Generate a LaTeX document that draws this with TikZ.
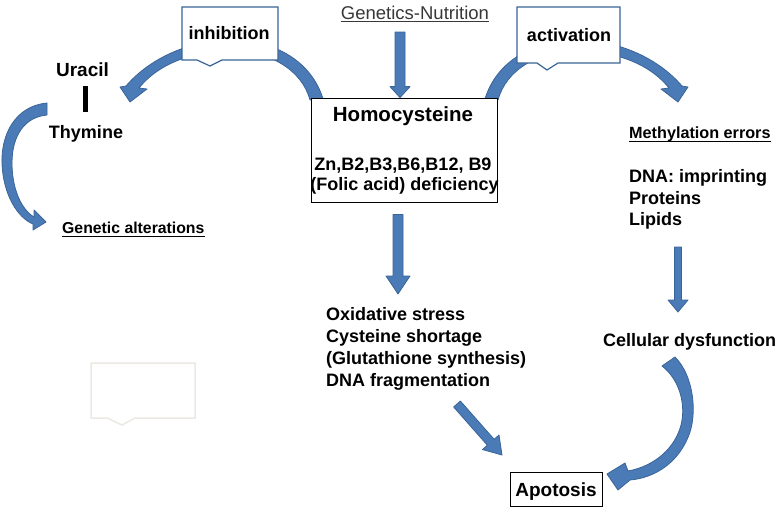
\documentclass[tikz,border=0pt]{standalone}
\usepackage{fontspec}
\setmainfont{Liberation Sans}
\usetikzlibrary{calc}
\definecolor{ablue}{HTML}{4A7BB7}
\definecolor{aedge}{HTML}{3A6497}
\definecolor{faint}{HTML}{ECE9E2}
\definecolor{gtext}{HTML}{383838}
% block arrow: #1 start, #2 tip, #3 half shaft, #4 half head, #5 head length
\newcommand\blockarr[5]{%
  \coordinate (ba-n) at ($(#2)!#5!(#1)$);
  \draw[barrow] ($(#1)!#3!90:(#2)$) -- ($(ba-n)!#3!-90:(#1)$) -- ($(ba-n)!#4!-90:(#1)$)
    -- (#2) -- ($(ba-n)!#4!90:(#1)$) -- ($(ba-n)!#3!90:(#1)$) -- ($(#1)!#3!-90:(#2)$) -- cycle;}
\begin{document}
\begin{tikzpicture}[x=1pt,y=-1pt,
  barrow/.style={fill=ablue,draw=aedge,line width=0.8pt,line join=round},
  callout/.style={fill=white,draw=aedge,line width=1.2pt,line join=miter},
  txt/.style={inner sep=0pt,font=\bfseries\fontsize{18pt}{21.5pt}\selectfont},
  ulline/.style={line width=1pt}]
\useasboundingbox[fill=white] (0,0) rectangle (782,507);

% ---- curved arrows ----
% Homocysteine -> Uracil (inhibition)
\draw[barrow] (323,99) .. controls (312,62) and (275,40) .. (232,40)
  .. controls (190,40) and (150,58) .. (126,86) -- (120,87) -- (130,102) -- (147,89) -- (139,88)
  .. controls (160,62) and (195,51) .. (232,51) .. controls (270,51) and (302,70) .. (310,100) -- cycle;
% Homocysteine -> Methylation errors (activation)
\draw[barrow] (485,99) .. controls (496,62) and (533,40) .. (576,40)
  .. controls (618,40) and (658,58) .. (682,86) -- (688,87) -- (678,102) -- (661,89) -- (669,88)
  .. controls (648,62) and (613,51) .. (576,51) .. controls (538,51) and (506,70) .. (498,100) -- cycle;
% Thymine -> Genetic alterations
\draw[barrow] (47,103) .. controls (15,106) and (1,135) .. (2,163)
  .. controls (3,195) and (18,218) .. (33,224) -- (33,230) -- (46,222) -- (34,210) -- (34,217)
  .. controls (22,210) and (12,190) .. (12,163) .. controls (12,135) and (25,117) .. (47,115) -- cycle;
% Cellular dysfunction -> Apotosis
\draw[barrow] (675,357) .. controls (693,375) and (697,410) .. (690,432)
  .. controls (680,462) and (655,478) .. (630,480) -- (618,490) -- (607,474) -- (625,463) -- (628,471)
  .. controls (655,466) and (675,448) .. (681,425) .. controls (686,405) and (680,380) .. (662,366) -- cycle;

% ---- callouts ----
\draw[callout] (182,7) -- (278,7) -- (278,60) -- (222,60) -- (210,66) -- (197,60) -- (182,60) -- cycle;
\node[txt,anchor=base] (inh) at (229,39.5) {inhibition};
\draw[callout] (517,7) -- (620,7) -- (620,63) -- (558,63) -- (547,70) -- (537,63) -- (517,63) -- cycle;
\node[txt,anchor=base] (act) at (569,41) {activation};
\draw[callout,draw=faint,line width=1.5pt] (91,363) -- (195,363) -- (195,418) -- (135,418) -- (122,425) -- (107,418) -- (91,418) -- cycle;

% ---- Homocysteine box ----
\node[draw=black,fill=white,line width=0.8pt,minimum width=186pt,minimum height=104pt,inner sep=0pt] (homobox) at (404,150) {};
\node[txt,anchor=base,font=\bfseries\fontsize{20.5pt}{24pt}\selectfont] (homo) at (403,121.5) {Homocysteine};
\node[txt,anchor=base] (vit1) at (403,170.5) {Zn,B2,B3,B6,B12, B9};
\node[txt,anchor=base] (vit2) at (404.5,190) {(Folic acid) deficiency};

% ---- top input ----
\node[inner sep=0pt,anchor=base,text=gtext,font=\fontsize{18.5pt}{22pt}\selectfont] (gn) at (415,19) {Genetics-Nutrition};
\draw[ulline,gtext] ($(gn.base west)+(0,2)$) -- ($(gn.base east)+(0,2)$);
\coordinate (gnA) at (400,32);
\coordinate (gnB) at ($(homobox.north)+(-4,0)$);
\blockarr{gnA}{gnB}{5pt}{10pt}{11pt}

% ---- left column ----
\node[txt,anchor=base,font=\bfseries\fontsize{19pt}{22pt}\selectfont] (uracil) at (82.5,76) {Uracil};
\fill (83,86) rectangle (88,112);
\node[txt,anchor=base] (thymine) at (86,138) {Thymine};
\node[txt,anchor=base west,font=\bfseries\fontsize{15.8pt}{19pt}\selectfont] (genalt) at (62,233.5) {Genetic alterations};
\draw[ulline] ($(genalt.base west)+(0,3)$) -- ($(genalt.base east)+(0,3)$);

% ---- middle column ----
\coordinate (dA) at ($(homobox.south)+(-6,12)$);
\coordinate (dB) at (398,294);
\blockarr{dA}{dB}{5pt}{12pt}{18pt}
\node[txt,anchor=base west] (ox1) at (326,320) {Oxidative stress};
\node[txt,anchor=base west] (ox2) at (326,342) {Cysteine shortage};
\node[txt,anchor=base west] (ox3) at (326,364) {(Glutathione synthesis)};
\node[txt,anchor=base west] (ox4) at (326,386) {DNA fragmentation};
\coordinate (xA) at (457,404);
\coordinate (xB) at (502,455);
\blockarr{xA}{xB}{4.5pt}{11pt}{17pt}
\node[draw=black,line width=0.8pt,minimum width=92pt,minimum height=34pt,inner sep=0pt] (apobox) at (556,489.5) {};
\node[txt,anchor=base,font=\bfseries\fontsize{19pt}{22pt}\selectfont] (apo) at (556,496) {Apotosis};

% ---- right column ----
\node[txt,anchor=base west,font=\bfseries\fontsize{16.2pt}{19pt}\selectfont] (meth) at (629,138.3) {Methylation errors};
\draw[ulline] ($(meth.base west)+(0,3)$) -- ($(meth.base east)+(0,3)$);
\node[txt,anchor=base west] (dna) at (629,182.7) {DNA: imprinting};
\node[txt,anchor=base west] (prot) at (629,204) {Proteins};
\node[txt,anchor=base west] (lip) at (629,225.7) {Lipids};
\coordinate (rA) at (678,247);
\coordinate (rB) at (678,312);
\blockarr{rA}{rB}{3.5pt}{10pt}{12pt}
\node[txt,anchor=base west] (cell) at (603,346) {Cellular dysfunction};
\end{tikzpicture}
\end{document}
